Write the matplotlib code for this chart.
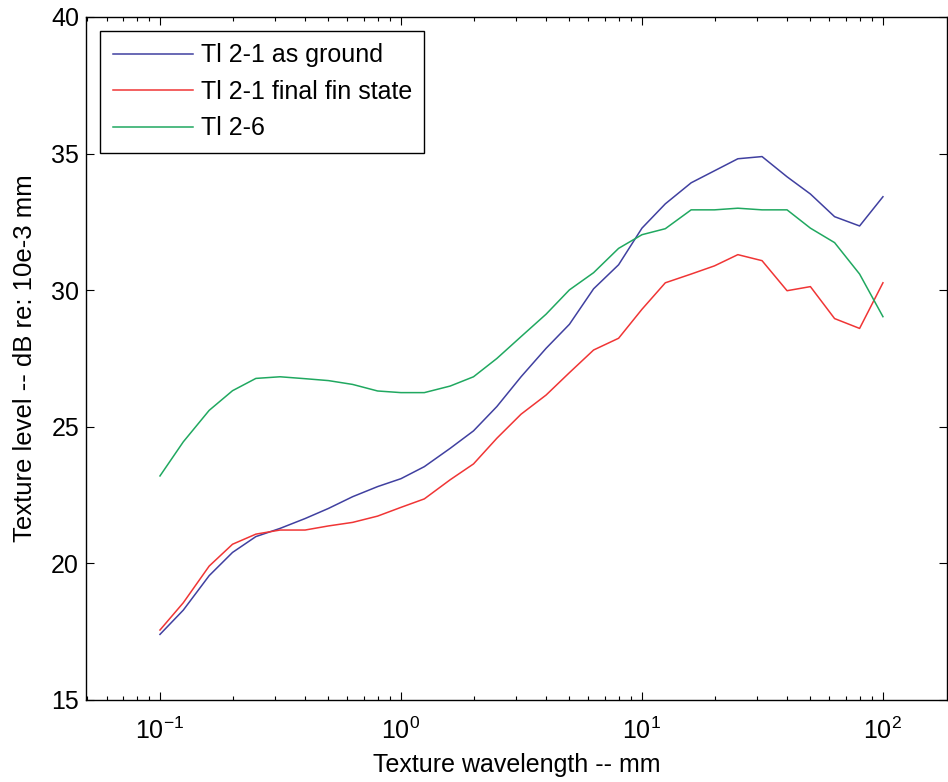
import matplotlib
matplotlib.use("Agg")
import matplotlib.pyplot as plt
from matplotlib.ticker import LogLocator, FixedLocator, NullFormatter

plt.rcParams['font.family'] = ['Liberation Sans', 'DejaVu Sans']
plt.rcParams['mathtext.fontset'] = 'custom'
plt.rcParams['mathtext.rm'] = 'Liberation Sans'
plt.rcParams['mathtext.it'] = 'Liberation Sans:italic'

wavelength = [0.1, 0.125, 0.16, 0.2, 0.25, 0.315, 0.4, 0.5, 0.63, 0.8, 1, 1.25, 1.6, 2,
              2.5, 3.15, 4, 5, 6.3, 8, 10, 12.5, 16, 20, 25, 31.5, 40, 50, 63, 80, 100]

as_ground = [17.40, 18.29, 19.55, 20.40, 20.98, 21.28, 21.64, 22.01, 22.44, 22.81, 23.10,
             23.54, 24.21, 24.85, 25.74, 26.83, 27.87, 28.75, 30.05, 30.93, 32.27, 33.16,
             33.93, 34.37, 34.81, 34.89, 34.15, 33.52, 32.69, 32.35, 33.42]

final_fin = [17.56, 18.56, 19.90, 20.70, 21.07, 21.22, 21.22, 21.37, 21.50, 21.73, 22.05,
             22.36, 23.06, 23.64, 24.58, 25.46, 26.16, 26.98, 27.81, 28.24, 29.30, 30.27,
             30.59, 30.89, 31.30, 31.08, 29.98, 30.13, 28.96, 28.60, 30.27]

tl_2_6 = [23.20, 24.45, 25.60, 26.32, 26.77, 26.83, 26.76, 26.69, 26.55, 26.31, 26.25,
          26.25, 26.49, 26.83, 27.50, 28.30, 29.12, 30.01, 30.64, 31.53, 32.03, 32.25,
          32.94, 32.94, 33.00, 32.94, 32.94, 32.27, 31.74, 30.59, 29.03]

labels = ['Tl 2-1 as ground', 'Tl 2-1 final fin state', 'Tl 2-6']
colors = ['#4040a0', '#f03535', '#20a860']
yticks = [15, 20, 25, 30, 35, 40]

fig = plt.figure(figsize=(9.48, 7.82), dpi=100)
ax = fig.add_axes([0.0907, 0.1049, 0.9083, 0.8734])

for ys, lab, c in zip([as_ground, final_fin, tl_2_6], labels, colors):
    ax.plot(wavelength, ys, color=c, lw=1.1, label=lab)

ax.set_xscale('log')
ax.set_xlim(10 ** -1.307, 10 ** 2.266)
ax.set_ylim(15, 40)
ax.yaxis.set_major_locator(FixedLocator(yticks))
ax.xaxis.set_major_locator(LogLocator(base=10, numticks=10))
ax.xaxis.set_minor_locator(LogLocator(base=10, subs=range(2, 10), numticks=20))
ax.xaxis.set_minor_formatter(NullFormatter())

ax.tick_params(which='both', direction='in', top=True, right=True, labelsize=18)
ax.tick_params(axis='y', pad=5)
ax.tick_params(axis='x', pad=13)
ax.tick_params(which='major', length=6, width=0.8)
ax.tick_params(which='minor', length=3, width=0.8)
for s in ax.spines.values():
    s.set_linewidth(1.0)

ax.set_xlabel('Texture wavelength -- mm', fontsize=18, labelpad=6)
ax.set_ylabel('Texture level -- dB re: 10e-3 mm', fontsize=18.5, labelpad=10)

leg = ax.legend(loc='upper left', bbox_to_anchor=(0.0163, 0.9795), fontsize=18,
                frameon=True, fancybox=False, edgecolor='black', framealpha=1,
                handlelength=3.2, handletextpad=0.32, borderpad=0.5, labelspacing=0.5,
                borderaxespad=0)
leg.get_frame().set_linewidth(1.0)

fig.savefig('out.png', dpi=100)
